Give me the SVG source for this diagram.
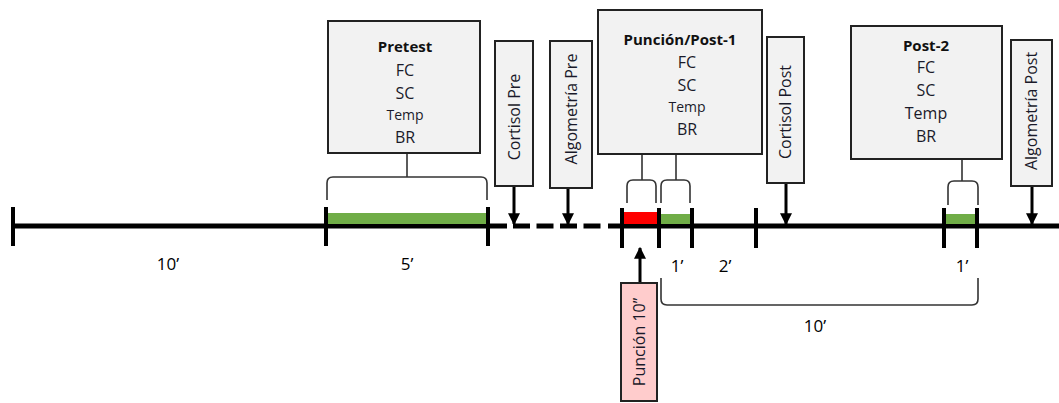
<svg xmlns="http://www.w3.org/2000/svg" width="1059" height="403" viewBox="0 0 1059 403">
<defs>
<marker id="ah" viewBox="0 0 10 10" refX="9" refY="5" markerWidth="4" markerHeight="4" orient="auto" markerUnits="strokeWidth"><path d="M0,0 L10,5 L0,10 z" fill="#000"/></marker>
<style>
.box{fill:#f2f2f2;stroke:#222;stroke-width:2}
.pink{fill:#ffcccc;stroke:#222;stroke-width:2}
.t{font-family:"Open Sans","Liberation Sans",sans-serif;font-size:16px;fill:#1a1a2a;text-anchor:middle}
.tb{font-family:"Open Sans","Liberation Sans",sans-serif;font-size:15px;font-weight:bold;fill:#111;text-anchor:middle}
.ts{font-family:"Open Sans","Liberation Sans",sans-serif;font-size:14px;fill:#1a1a2a;text-anchor:middle}
.tl{font-family:"Open Sans","Liberation Sans",sans-serif;font-size:17px;fill:#000;text-anchor:middle}
.line{stroke:#000;stroke-width:5;fill:none}
.tick{stroke:#000;stroke-width:4}
.br{stroke:#333;stroke-width:1.6;fill:none}
.arr{stroke:#000;stroke-width:3;fill:none;marker-end:url(#ah)}
</style>
</defs>
<rect width="1059" height="403" fill="#fff"/>
<g id="timeline">
<line class="line" x1="12" y1="226" x2="507" y2="226"/>
<line class="line" x1="513" y1="226" x2="601" y2="226" stroke-dasharray="17 6.5"/>
<line class="line" x1="608" y1="226" x2="1059" y2="226"/>
<rect x="328" y="213" width="159" height="11" fill="#70ad47"/>
<rect x="623" y="212" width="35" height="12" fill="#ff0000"/>
<rect x="661" y="214" width="30" height="10" fill="#70ad47"/>
<rect x="946" y="214" width="31" height="10" fill="#70ad47"/>
<line class="tick" x1="13" y1="207" x2="13" y2="246"/>
<line class="tick" x1="326" y1="207" x2="326" y2="246"/>
<line class="tick" x1="488" y1="207" x2="488" y2="246"/>
<line class="tick" x1="622" y1="208" x2="622" y2="248"/>
<line class="tick" x1="659" y1="208" x2="659" y2="248"/>
<line class="tick" x1="692" y1="208" x2="692" y2="248"/>
<line class="tick" x1="756" y1="208" x2="756" y2="248"/>
<line class="tick" x1="944" y1="208" x2="944" y2="248"/>
<line class="tick" x1="977" y1="208" x2="977" y2="248"/>
<text class="tl" x="168" y="270">10’</text>
<text class="tl" x="407" y="270">5’</text>
<text class="tl" x="677" y="272">1’</text>
<text class="tl" x="725" y="272">2’</text>
<text class="tl" x="962" y="272">1’</text>
<text class="tl" x="815" y="332">10’</text>
</g>
<g id="connectors">
<path class="br" d="M407,153 V177 M327,200 V183 Q327,177 333,177 H481 Q487,177 487,183 V200"/>
<path class="br" d="M642,154 V180 M627,203 V186 Q627,180 633,180 H650 Q656,180 656,186 V203"/>
<path class="br" d="M676,154 V180 M661,203 V186 Q661,180 667,180 H684 Q690,180 690,186 V203"/>
<path class="br" d="M962,159 V181 M948,205 V187 Q948,181 954,181 H972 Q978,181 978,187 V205"/>
<path class="br" d="M661,278 V299 Q661,305 667,305 H972 Q978,305 978,299 V278"/>
<line class="arr" x1="514" y1="186" x2="514" y2="224"/>
<line class="arr" x1="568" y1="188" x2="568" y2="224"/>
<line class="arr" x1="786" y1="183" x2="786" y2="224"/>
<line class="arr" x1="1032" y1="186" x2="1032" y2="224"/>
<line class="arr" x1="640" y1="283" x2="640" y2="248"/>
</g>
<g id="pretest">
<rect class="box" x="328" y="21" width="152" height="132"/>
<text class="tb" x="405" y="52">Pretest</text>
<text class="t" x="405" y="76">FC</text>
<text class="t" x="405" y="99">SC</text>
<text class="ts" x="405" y="120">Temp</text>
<text class="t" x="405" y="143">BR</text>
</g>
<g id="cortisol-pre">
<rect class="box" x="495" y="41" width="38" height="145"/>
<text class="t" transform="translate(520,117) rotate(-90)">Cortisol Pre</text>
</g>
<g id="algometria-pre">
<rect class="box" x="550" y="41" width="42" height="147"/>
<text class="t" transform="translate(577,109) rotate(-90)">Algometría Pre</text>
</g>
<g id="puncion-post1">
<rect class="box" x="598" y="10" width="164" height="144"/>
<text class="tb" x="680" y="45">Punción/Post-1</text>
<text class="t" x="687" y="68">FC</text>
<text class="t" x="687" y="91">SC</text>
<text class="ts" x="687" y="112">Temp</text>
<text class="t" x="687" y="135">BR</text>
</g>
<g id="cortisol-post">
<rect class="box" x="767" y="37" width="37" height="146"/>
<text class="t" transform="translate(791,112) rotate(-90)">Cortisol Post</text>
</g>
<g id="post2">
<rect class="box" x="851" y="26" width="151" height="133"/>
<text class="tb" x="926" y="51">Post-2</text>
<text class="t" x="926" y="73">FC</text>
<text class="t" x="926" y="96">SC</text>
<text class="t" x="926" y="119">Temp</text>
<text class="t" x="926" y="142">BR</text>
</g>
<g id="algometria-post">
<rect class="box" x="1011" y="40" width="41" height="146"/>
<text class="t" transform="translate(1037,111) rotate(-90)">Algometría Post</text>
</g>
<g id="puncion-10">
<rect class="pink" x="621" y="283" width="36" height="118"/>
<text class="t" transform="translate(645,342) rotate(-90)">Punción 10’’</text>
</g>
</svg>
